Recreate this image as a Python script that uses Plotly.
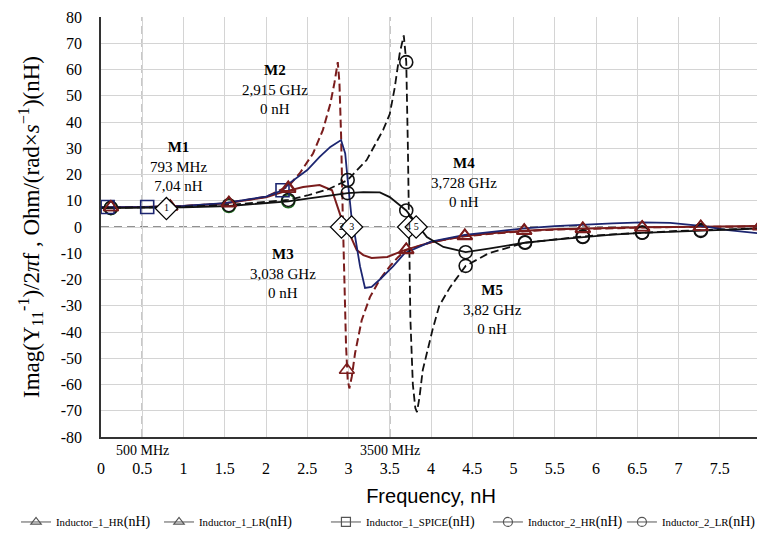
import plotly.graph_objects as go

# ---------------- data ----------------
# Inductor_1_HR (dark red dashed)
i1hr_x = [0, 0.5, 1.0, 1.5, 2.0, 2.27, 2.41, 2.57, 2.69, 2.78, 2.83, 2.87, 2.89, 2.91, 2.93, 2.95,
          2.97, 2.99, 3.01, 3.04, 3.08, 3.16, 3.26, 3.38, 3.5, 3.6, 3.7, 4.0, 4.41, 4.8, 5.13, 5.5,
          5.84, 6.2, 6.56, 7.0, 7.27, 7.6, 8.0]
i1hr_y = [7.5, 7.6, 8.0, 9.0, 11.5, 15.5, 20.5, 28, 37, 47, 55, 62.8, 55, 35, 5, -20,
          -45, -58, -61.5, -57, -48, -35.5, -26.7, -20, -15, -11.5, -8.8, -5.8, -3.5, -2.4, -1.6, -1.0,
          -0.7, -0.4, -0.2, 0.0, 0.0, 0.1, 0.2]
i1hr_mx = [0.12, 0.84, 1.55, 2.27, 2.98, 3.70, 4.41, 5.13, 5.84, 6.56, 7.27, 7.99]
i1hr_my = [7.5, 7.8, 9.2, 15.0, -54.5, -8.6, -3.5, -1.5, -0.8, -0.2, 0.0, 0.2]

# Inductor_1_LR (dark red solid)
i1lr_x = [0, 0.5, 1.0, 1.5, 2.0, 2.2, 2.45, 2.65, 2.8, 2.87, 2.92, 2.99, 3.1, 3.18, 3.28, 3.47,
          3.68, 4.0, 4.41, 4.8, 5.13, 5.5, 5.84, 6.2, 6.56, 7.27, 7.6, 8.0]
i1lr_y = [7.5, 7.6, 8.0, 9.0, 11.3, 13.3, 15.2, 16.0, 14.0, 7.6, 2.7, -1.0, -8.8, -10.7, -11.8, -11.4,
          -8.8, -5.8, -3.3, -2.2, -1.4, -0.9, -0.6, -0.3, -0.1, 0.1, 0.2, 0.4]
i1lr_mx = [0.12, 0.84, 1.55, 2.27, 3.70, 4.41, 5.13, 5.84, 6.56, 7.27, 7.99]
i1lr_my = [7.5, 7.8, 9.0, 14.5, -8.8, -3.3, -1.3, -0.6, -0.1, 0.1, 0.4]

# Inductor_1_SPICE (navy solid)
i1sp_x = [0, 0.5, 1.0, 1.5, 2.0, 2.2, 2.29, 2.5, 2.65, 2.78, 2.91, 2.96, 2.99, 3.04, 3.08, 3.14,
          3.2, 3.28, 3.38, 3.54, 3.68, 4.0, 4.41, 4.8, 5.13, 5.5, 5.84, 6.2, 6.56, 6.9, 7.27, 7.6, 8.0]
i1sp_y = [7.6, 7.6, 8.0, 9.1, 11.6, 14.0, 16.8, 21.7, 26.7, 30.5, 33.1, 28, 18, 2.7, -3.7, -15,
          -23.2, -22.8, -20, -15, -10, -5.6, -3.0, -1.5, -0.5, 0.3, 0.9, 1.4, 1.8, 1.6, 0.4, -1.2, -2.5]
i1sp_mx = [0.08, 0.56, 2.2]
i1sp_my = [7.6, 7.6, 14.0]

# Inductor_2_HR (black dashed)
i2hr_x = [0, 0.5, 1.0, 1.5, 2.0, 2.27, 2.5, 2.75, 2.99, 3.22, 3.42, 3.5, 3.56, 3.62, 3.67, 3.70,
          3.72, 3.73, 3.75, 3.78, 3.81, 3.83, 3.86, 3.9, 4.02, 4.1, 4.23, 4.42, 4.7, 5.14, 5.5,
          5.84, 6.2, 6.56, 7.0, 7.27, 7.6, 8.0]
i2hr_y = [7.3, 7.4, 7.7, 8.3, 9.5, 10.3, 12.0, 14.3, 17.9, 25.5, 37, 43, 53, 66, 73, 63,
          30, 0, -35, -60, -69, -70.5, -65, -54.5, -39, -30, -23, -14.8, -10, -6.0, -4.7,
          -3.6, -2.8, -2.1, -1.5, -1.2, -0.8, -0.5]
i2hr_mx = [0.12, 1.55, 2.27, 2.99, 3.70, 4.42, 5.14, 5.84, 6.56, 7.27]
i2hr_my = [7.3, 8.3, 10.3, 17.9, 62.8, -14.8, -6.0, -3.6, -2.1, -1.2]

# Inductor_2_LR (black solid)
i2lr_x = [0, 0.5, 1.0, 1.55, 2.0, 2.27, 2.5, 2.75, 2.99, 3.18, 3.38, 3.5, 3.6, 3.7, 3.83, 3.95,
          4.15, 4.42, 4.7, 5.14, 5.5, 5.84, 6.2, 6.56, 7.27, 7.6, 8.0]
i2lr_y = [7.2, 7.3, 7.5, 8.0, 9.0, 9.8, 10.8, 11.8, 12.9, 13.3, 13.2, 11.4, 9.0, 6.3, 1.0, -3.8,
          -7.6, -9.6, -8.2, -6.0, -4.8, -3.8, -2.9, -2.2, -1.5, -1.0, -0.6]
i2lr_mx = [0.12, 1.55, 2.27, 2.99, 3.70, 4.42, 5.14, 5.84, 6.56, 7.27]
i2lr_my = [7.2, 8.0, 9.8, 12.9, 6.3, -9.6, -5.8, -3.8, -2.2, -1.5]

# Marker points M1..M5
mk_labels = ["1", "2", "3", "4", "5"]
mk_x = [0.793, 2.915, 3.038, 3.728, 3.82]
mk_y = [7.04, 0, 0, 0, 0]
mk_text = ["<b>M1</b><br>793 MHz<br>7,04 nH",
           "<b>M2</b><br>2,915 GHz<br>0 nH",
           "<b>M3</b><br>3,038 GHz<br>0 nH",
           "<b>M4</b><br>3,728 GHz<br>0 nH",
           "<b>M5</b><br>3,82 GHz<br>0 nH"]
mk_tx = [0.94, 2.11, 2.2, 4.4, 4.75]
mk_ty = [23.2, 52.2, -17.9, 17.1, -31.6]

vline_x = [0.5, 3.5]
vline_labels = ["500 MHz", "3500 MHz"]

legend_names = ["Inductor_1_HR", "Inductor_1_LR", "Inductor_1_SPICE", "Inductor_2_HR", "Inductor_2_LR"]
legend_symbols = ["triangle-up-open", "triangle-up-open", "square-open", "circle-open", "circle-open"]

x_ticks = [0, 0.5, 1, 1.5, 2, 2.5, 3, 3.5, 4, 4.5, 5, 5.5, 6, 6.5, 7, 7.5, 8]
y_ticks = list(range(-80, 81, 10))

# ---------------- styling ----------------
RED = "#7a1c1c"
NAVY = "#1c2570"
BLACK = "#111111"
GREEN = "#1f6b1f"
SERIF = "Liberation Serif"
SANS = "Liberation Sans"

# page body has an 8px margin: figure is 757x525 so it fits the 765x533 window
FW, FH = 757, 525
legend_pos = [0.0106, 0.1995, 0.420, 0.634, 0.811]

fig = go.Figure()

# reference lines
for xv in vline_x:
    fig.add_shape(type="line", x0=xv, x1=xv, y0=-80, y1=80, xref="x", yref="y",
                  line=dict(color="#222", width=1, dash="8px,5px"), layer="below")
fig.add_shape(type="line", x0=0, x1=8, y0=0, y1=0, xref="x", yref="y",
              line=dict(color="#222", width=1, dash="8px,5px"), layer="below")

lines = [
    (i1hr_x, i1hr_y, RED, "8px,4px", 2.0),
    (i1lr_x, i1lr_y, RED, "solid", 2.0),
    (i1sp_x, i1sp_y, NAVY, "solid", 1.8),
    (i2hr_x, i2hr_y, BLACK, "8px,4px", 1.8),
    (i2lr_x, i2lr_y, BLACK, "solid", 1.8),
]
for xs, ys, c, d, w in lines:
    fig.add_trace(go.Scatter(x=xs, y=ys, mode="lines", line=dict(color=c, width=w, dash=d),
                             showlegend=False, hoverinfo="skip"))

markers = [
    (i2lr_mx, i2lr_my, "circle-open", [GREEN, GREEN, GREEN] + [BLACK] * 7, 13),
    (i2hr_mx, i2hr_my, "circle-open", BLACK, 13),
    (i1sp_mx, i1sp_my, "square-open", NAVY, 13),
    (i1lr_mx, i1lr_my, "triangle-up-open", RED, 13),
    (i1hr_mx, i1hr_my, "triangle-up-open", RED, 13),
]
for xs, ys, sym, c, s in markers:
    fig.add_trace(go.Scatter(x=xs, y=ys, mode="markers",
                             marker=dict(symbol=sym, size=s, color=c, line=dict(width=1.6)),
                             showlegend=False, hoverinfo="skip"))

# diamond markers M1..M5
fig.add_trace(go.Scatter(x=mk_x, y=mk_y, mode="markers+text", text=mk_labels,
                         textposition="middle center",
                         textfont=dict(family=SERIF, size=10, color="black"),
                         marker=dict(symbol="diamond", size=17, color="white",
                                     line=dict(color="black", width=1.2)),
                         showlegend=False, hoverinfo="skip"))

# legend-only traces, one legend each so they can be placed like the reference
legend_layouts = {}
for i, (name, sym) in enumerate(zip(legend_names, legend_symbols)):
    lg = "legend" if i == 0 else "legend%d" % (i + 1)
    fig.add_trace(go.Scatter(x=[None], y=[None], mode="lines+markers", legend=lg,
                             name=name + "<span style='font-size:14px'>(nH)</span>",
                             line=dict(color="#555", width=1),
                             marker=dict(symbol=sym, size=9, color="#555", line=dict(width=1.2))))
    legend_layouts[lg] = dict(orientation="h", xref="container", yref="container",
                              x=legend_pos[i], y=0.021, xanchor="left", yanchor="middle",
                              font=dict(family=SERIF, size=10.8, color="black"),
                              itemwidth=30, bgcolor="rgba(0,0,0,0)", borderwidth=0)

# annotations
for t, tx, ty in zip(mk_text, mk_tx, mk_ty):
    fig.add_annotation(x=tx, y=ty, xref="x", yref="y", text=t, showarrow=False,
                       font=dict(family=SERIF, size=15, color="black"), align="center")
for xv, lab in zip(vline_x, vline_labels):
    fig.add_annotation(x=xv, y=-0.031, xref="x", yref="paper", text=lab, showarrow=False,
                       font=dict(family=SERIF, size=14, color="black"), yanchor="middle")

fig.update_layout(
    width=FW, height=FH,
    margin=dict(l=93, r=4, t=9, b=96, autoexpand=False),
    paper_bgcolor="white", plot_bgcolor="white",
    font=dict(family=SERIF, color="black"),
    showlegend=True,
    xaxis=dict(range=[0, 8], tickvals=x_ticks, ticktext=[str(v) for v in x_ticks],
               automargin=False, ticklabeloverflow="allow",
               showgrid=True, gridcolor="#d4d4d4", gridwidth=1, zeroline=False,
               showline=True, linecolor="#333", linewidth=1.5,
               ticks="outside", ticklen=16, tickcolor="rgba(0,0,0,0)",
               tickfont=dict(family=SERIF, size=16),
               title=dict(text="Frequency, nH", font=dict(family=SANS, size=20), standoff=25)),
    yaxis=dict(range=[-80, 80], tickvals=y_ticks, ticktext=[str(v) for v in y_ticks],
               automargin=False,
               showgrid=True, gridcolor="#d4d4d4", gridwidth=1,
               zeroline=False, showline=True, linecolor="#333", linewidth=1.5,
               ticks="outside", ticklen=14, tickcolor="rgba(0,0,0,0)",
               tickfont=dict(family=SERIF, size=16),
               title=dict(text="Imag(Y<sub>11</sub><sup>-1</sup>)/2<i>π</i>f , Ohm/(rad×<i>s</i><sup>−1</sup>)(nH)",
                          font=dict(family=SERIF, size=23), standoff=15)),
    **legend_layouts,
)

fig.write_html("out.html")
